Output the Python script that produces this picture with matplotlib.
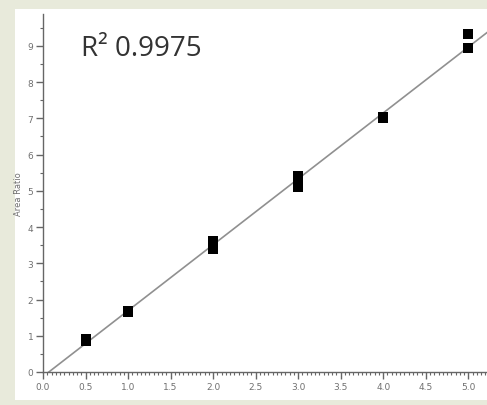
import numpy as np
import matplotlib
matplotlib.use("Agg")
import matplotlib.pyplot as plt
from matplotlib.patches import Rectangle
from matplotlib.ticker import MultipleLocator

# calibration points (concentration vs area ratio)
conc = [0.5, 0.5, 1.0, 1.0, 2.0, 2.0, 2.0, 3.0, 3.0, 3.0, 4.0, 4.0, 5.0, 5.0]
ratio = [0.85, 0.92, 1.65, 1.69, 3.40, 3.52, 3.62, 5.10, 5.25, 5.40, 7.01, 7.05, 8.93, 9.33]
r2_text = "R² 0.9975"

fig = plt.figure(figsize=(4.87, 4.06), dpi=100)
fig.patch.set_facecolor("#e8eadb")
# white panel behind the plot
fig.patches.append(Rectangle((15 / 487, 5 / 406), 472 / 487, 391 / 406,
                             transform=fig.transFigure, facecolor="white",
                             edgecolor="none", zorder=-5))

ax = fig.add_axes([43 / 487, 33 / 406, 444 / 487, 358 / 406])
ax.set_facecolor("none")

# regression line through the points
slope, icpt = np.polyfit(conc, ratio, 1)
xs = np.array([0.0, 5.4])
ax.plot(xs, slope * xs + icpt, color="#909090", lw=1.2, zorder=2)
ax.scatter(conc, ratio, marker="s", s=45, color="black", zorder=3, linewidths=0)

ax.set_xlim(0, 5.22)
ax.set_ylim(0, 9.88)
for s in ["top", "right"]:
    ax.spines[s].set_visible(False)
for s in ["left", "bottom"]:
    ax.spines[s].set_color("#666666")
    ax.spines[s].set_linewidth(1.0)

ax.xaxis.set_major_locator(MultipleLocator(0.5))
ax.xaxis.set_minor_locator(MultipleLocator(0.05))
ax.yaxis.set_major_locator(MultipleLocator(1))
ax.yaxis.set_minor_locator(MultipleLocator(0.5))
ax.xaxis.set_major_formatter(matplotlib.ticker.FormatStrFormatter("%.1f"))
ax.tick_params(which="major", length=5, width=1, color="#666666",
               labelsize=6.5, labelcolor="#707070", pad=2)
ax.tick_params(which="minor", length=2.5, width=0.8, color="#666666")

ax.set_ylabel("Area Ratio", fontsize=6, color="#707070", labelpad=3)

ax.text(0.085, 0.905, r2_text, transform=ax.transAxes, fontsize=20,
        family="Open Sans", color="#333333", va="center", ha="left")

fig.savefig("out.png", dpi=100, facecolor=fig.get_facecolor())
